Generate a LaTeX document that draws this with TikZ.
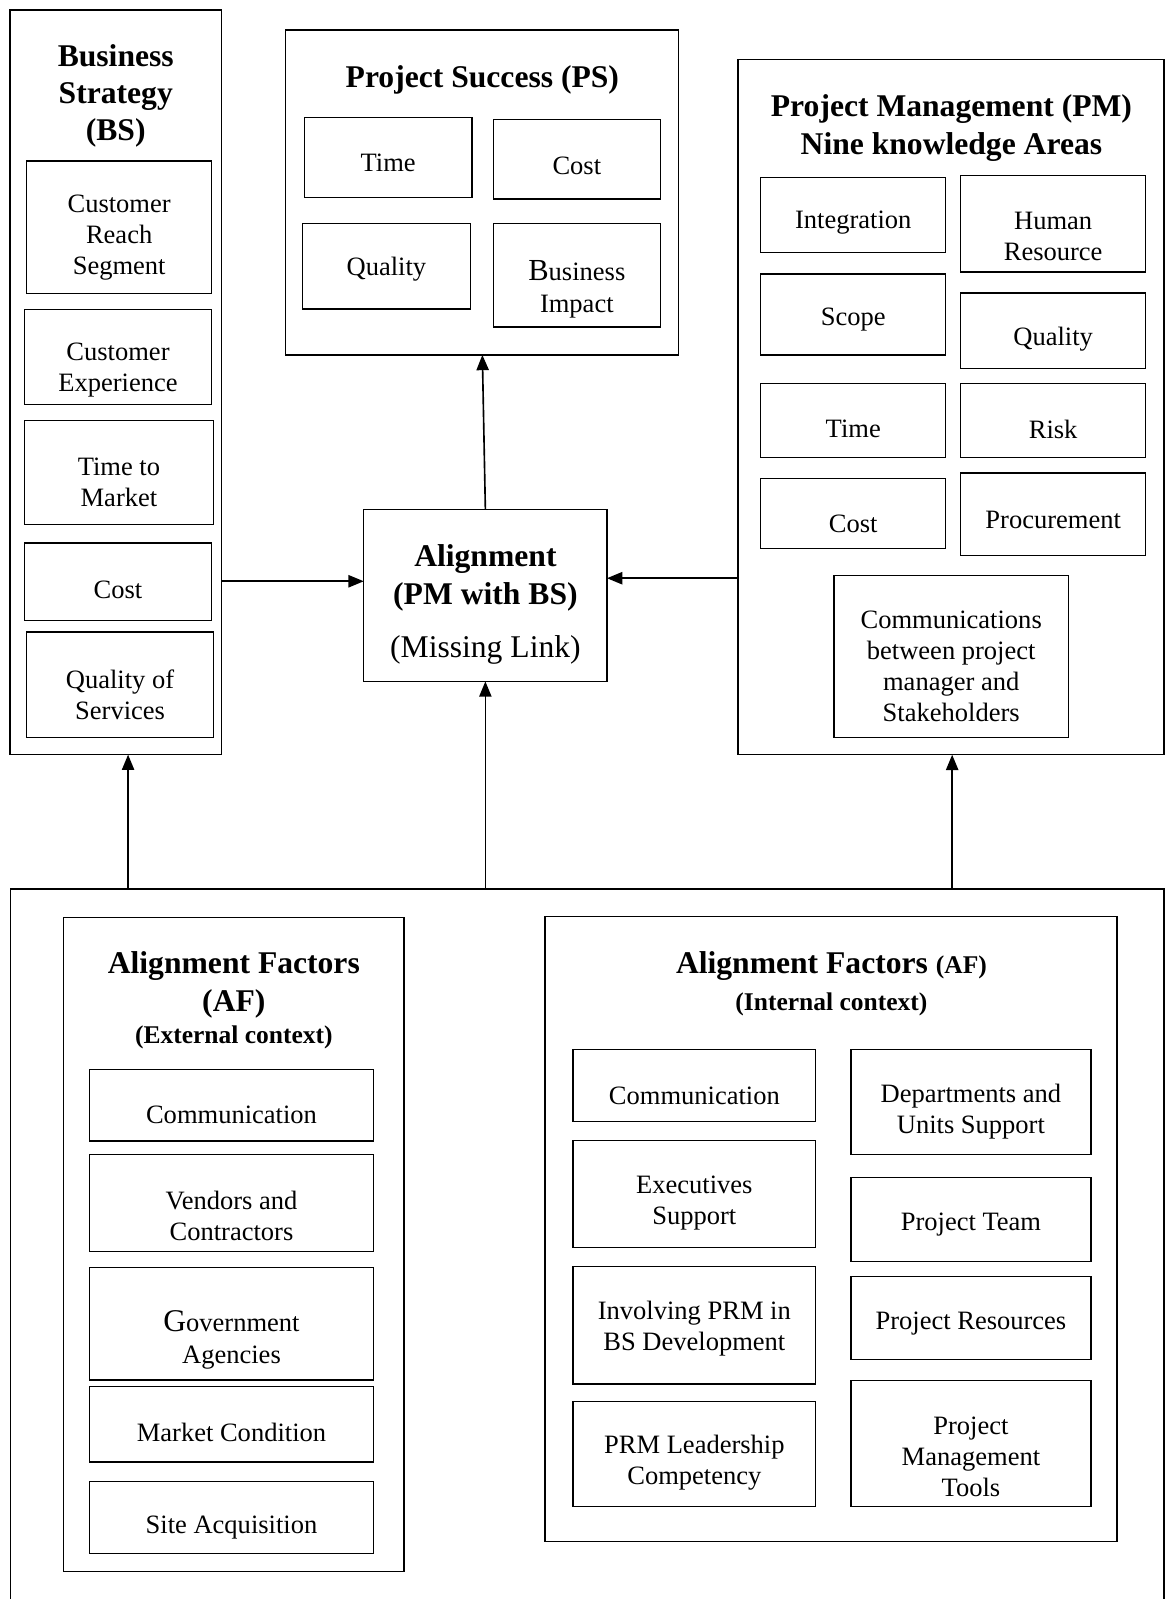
\documentclass[tikz,border=0pt]{standalone}
\usepackage{fontspec}
\setmainfont{Liberation Serif}
\usetikzlibrary{arrows.meta}

% framed cell: name, x1, y1, x2, y2, text centre y, text
\newcommand\boxcell[7]{%
  \node[box, minimum width={(#4)-(#2)}, minimum height={(#5)-(#3)}]
    (#1) at ({((#2)+(#4))/2},{((#3)+(#5))/2}) {};
  \node[txt] (#1-t) at ({((#2)+(#4))/2},#6) {#7};}

\tikzset{
  box/.style={draw=black, line width=1.3pt, inner sep=0pt, outer sep=0pt, fill=none},
  txt/.style={inner sep=0pt, yshift=-3pt, align=center, font=\fontsize{26}{30.5}\selectfont},
  ttl/.style={inner sep=0pt, yshift=-3pt, align=center, font=\bfseries\fontsize{31}{36.5}\selectfont},
  sub/.style={inner sep=0pt, yshift=-3pt, align=center, font=\bfseries\fontsize{25}{30}\selectfont},
  arr/.style={line width=1.6pt, -{Triangle[length=15pt,width=12pt]}}
}

\begin{document}
\begin{tikzpicture}[x=1pt,y=-1pt]
\fill[white] (0,0) rectangle (1142,1568);
\useasboundingbox (0,0) rectangle (1142,1568);

% ---------- Business Strategy ----------
\boxcell{bs}{9.8}{9.8}{217.5}{740}{91.3}{}
\node[ttl] (bs-title) at (113.5,91.3) {Business\\Strategy\\(BS)};
\boxcell{bs1}{26.3}{157.8}{207.4}{287.6}{230}{Customer\\Reach\\Segment}
\boxcell{bs2}{24.1}{303.2}{207.4}{396.4}{360}{Customer\\Experience}
\boxcell{bs3}{24.1}{412.4}{209.2}{514.3}{470}{Time to\\Market}
\boxcell{bs4}{24.1}{532.6}{207.4}{608.5}{575}{Cost}
\boxcell{bs5}{26.3}{619.9}{209.2}{723.5}{678}{Quality of\\Services}

% ---------- Project Success ----------
\boxcell{ps}{280.1}{29.4}{665.6}{348}{75.8}{}
\node[ttl] (ps-title) at (473,75.8) {Project Success (PS)};
\boxcell{ps1}{298.4}{115.4}{463}{193.4}{156.9}{Time}
\boxcell{ps2}{483.6}{117}{647.7}{195.1}{160}{Cost}
\boxcell{ps3}{296.7}{218.9}{461.2}{302.9}{261.4}{Quality}
\boxcell{ps4}{483.6}{218.9}{647.7}{320.6}{280.7}{{\fontsize{30}{30}\selectfont B}usiness\\Impact}

% ---------- Project Management ----------
\boxcell{pm}{723.8}{58.6}{1141.3}{740.1}{122.5}{}
\node[ttl] (pm-title) at (933,122.5) {Project Management (PM)\\Nine knowledge Areas};
\boxcell{pm1}{746}{173.8}{927.4}{247.4}{215}{Integration}
\boxcell{pm2}{942.1}{172.4}{1123.4}{266.8}{228.9}{Human\\Resource}
\boxcell{pm3}{746}{268.6}{927.4}{348.2}{309.9}{Scope}
\boxcell{pm4}{942.1}{287.2}{1123.4}{361.6}{329.8}{Quality}
\boxcell{pm5}{746}{376}{927.4}{448.6}{417.7}{Time}
\boxcell{pm6}{942.1}{376}{1123.4}{448.6}{417.7}{Risk}
\boxcell{pm7}{746}{469.5}{927.4}{537.9}{510.4}{Cost}
\boxcell{pm8}{942.1}{463.9}{1123.4}{544.4}{506.5}{Procurement}
\boxcell{pm9}{817.9}{564.3}{1047.6}{723}{650.3}{Communications\\between project\\manager and\\Stakeholders}

% ---------- Alignment ----------
\boxcell{align}{356.7}{499.3}{595.2}{668.2}{563.7}{}
\node[ttl] (align-title) at (476,563.7) {Alignment\\(PM with BS)};
\node[inner sep=0pt, yshift=-3pt, font=\fontsize{31}{36}\selectfont] (align-ml) at (476,634) {(Missing Link)};

% ---------- Context frame ----------
\boxcell{ctx}{10.1}{871.7}{1141.3}{1640}{900}{}

% external factors
\boxcell{ext}{62.3}{900}{396.2}{1540.7}{962.8}{}
\node[ttl] (ext-title) at (229.3,962.8) {Alignment Factors\\(AF)};
\node[sub] (ext-sub) at (229.3,1014) {(External context)};
\boxcell{e1}{87.8}{1048.6}{366.2}{1118.9}{1090}{Communication}
\boxcell{e2}{87.8}{1132.3}{366.2}{1227.4}{1189.6}{Vendors and\\Contractors}
\boxcell{e3}{87.8}{1243.1}{366.2}{1353.1}{1310.9}{{\fontsize{31}{31}\selectfont G}overnment\\Agencies}
\boxcell{e4}{87.8}{1359.6}{366.2}{1433.5}{1402}{Market Condition}
\boxcell{e5}{87.8}{1452.9}{366.2}{1523.5}{1494.7}{Site Acquisition}

% internal factors
\boxcell{int}{534.3}{898.5}{1095.2}{1511.6}{944.7}{}
\node[ttl] (int-title) at (815.3,944.7) {Alignment Factors {\fontsize{25}{30}\selectfont(AF)}};
\node[sub] (int-sub) at (815.3,981.7) {(Internal context)};
\boxcell{i1}{562}{1029.2}{799.8}{1099.9}{1071.9}{Communication}
\boxcell{i2}{562}{1118.5}{799.8}{1223.2}{1176.9}{Executives\\Support}
\boxcell{i3}{562}{1241.8}{799.8}{1357.3}{1299.5}{Involving PRM in\\BS Development}
\boxcell{i4}{562}{1374.4}{799.8}{1477}{1431.6}{PRM Leadership\\Competency}
\boxcell{i5}{834.4}{1029.2}{1069.8}{1131.8}{1086.9}{Departments and\\Units Support}
\boxcell{i6}{834.4}{1154.9}{1069.8}{1237.2}{1197.6}{Project Team}
\boxcell{i7}{834.4}{1252}{1069.8}{1332.9}{1294.7}{Project Resources}
\boxcell{i8}{834.4}{1353.6}{1069.8}{1477}{1425.5}{Project\\Management\\Tools}

% ---------- connectors ----------
\draw[arr] (bs.east |- 0,570) -- (align.west |- 0,570);
\draw[arr] (pm.west |- 0,567) -- (align.east |- 0,567);
\draw[arr] (align.north) -- (ps.south -| 473,0);
\draw[arr] (ctx.north -| 125.6,0) -- (bs.south -| 125.6,0);
\draw[arr] (ctx.north -| align.south) -- (align.south);
\draw[arr] (ctx.north -| 933.7,0) -- (pm.south -| 933.7,0);
\end{tikzpicture}
\end{document}
